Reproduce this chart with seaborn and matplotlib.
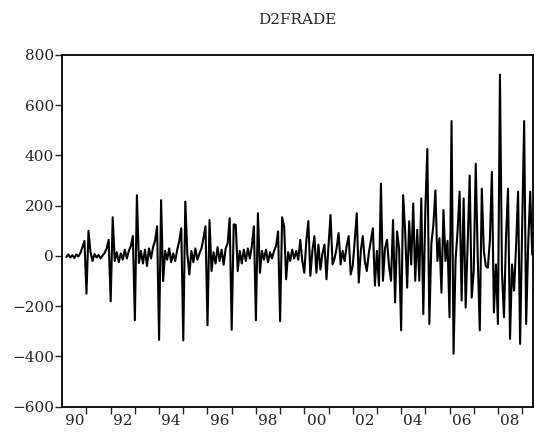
import numpy as np
import pandas as pd
import seaborn as sns
import matplotlib
matplotlib.use("Agg")
import matplotlib.pyplot as plt
from matplotlib.ticker import FixedLocator, NullFormatter, FixedFormatter

# monthly values of D2FRADE, Mar 1990 .. Jun 2009
y1990 = [-4, 6, -6, 3, -8, 6, -2, 12, 35, 60]  # from March
y1991 = [-150, 100, 15, -20, 8, -6, 4, -10, 2, 12, 30, 64]
y1992 = [-181, 154, -20, 15, -25, 10, -15, 25, -10, 20, 40, 79]
y1993 = [-256, 242, -28, 20, -30, 25, -40, 30, -10, 35, 60, 118]
y1994 = [-334, 222, -100, 20, -15, 30, -25, 10, -20, 25, 60, 110]
y1995 = [-336, 216, 10, -74, 20, -25, 30, -15, 10, 30, 70, 118]
y1996 = [-276, 143, -60, 15, -30, 35, -20, 25, -35, 30, 50, 150]
y1997 = [-294, 126, 124, -60, 20, -30, 25, -20, 30, -10, 40, 118]
y1998 = [-256, 170, -67, 20, -15, 25, -25, 15, -10, 20, 40, 98]
y1999 = [-260, 154, 118, -93, 15, -20, 25, -10, 20, -15, 64, -20]
y2000 = [-67, 60, 139, -79, 20, 79, -67, 45, -54, 10, 45, -93]
y2001 = [40, 163, -34, -10, 30, 91, -34, 20, -20, 40, 79, -74]
y2002 = [-40, 60, 170, -106, 20, 79, -20, -60, 12, 60, 110, -118]
y2003 = [20, -118, 288, -99, 30, 64, -40, -99, 143, -185, 98, 30]
y2004 = [-296, 242, 98, -126, 138, -34, 209, -99, 104, -99, 229, -231]
y2005 = [180, 426, -271, 50, 124, 261, -20, 71, -146, 183, -20, 60]
y2006 = [-244, 537, -389, -15, 100, 256, -177, 229, -205, 50, 320, -166]
y2007 = [-60, 367, -8, -296, 268, 20, -40, -47, 60, 335, -225, -34]
y2008 = [-271, 722, -60, -244, 71, 268, -330, -34, -138, 40, 256, -350]
y2009 = [110, 537, -271, 45, 256, 5]  # to June

year_labels = ["90", "92", "94", "96", "98", "00", "02", "04", "06", "08"]
y_ticks = [-600, -400, -200, 0, 200, 400, 600, 800]

values = (y1990 + y1991 + y1992 + y1993 + y1994 + y1995 + y1996 + y1997
          + y1998 + y1999 + y2000 + y2001 + y2002 + y2003 + y2004 + y2005
          + y2006 + y2007 + y2008 + y2009)
months = np.arange(2, 2 + len(values))
df = pd.DataFrame({"t": 1990 + months / 12.0, "D2FRADE": values})

sns.set_style("ticks")
plt.rcParams["font.family"] = ["DejaVu Serif"]

fig = plt.figure(figsize=(5.35, 4.32), dpi=100)
ax = fig.add_axes([0.1164, 0.0586, 0.8799, 0.8141])

sns.lineplot(data=df, x="t", y="D2FRADE", color="black", linewidth=1.5, ax=ax)

ax.set_xlim(1990, 2009.45)
ax.set_ylim(-600, 800)
ax.set_xlabel("")
ax.set_ylabel("")

# year boundaries as ticks, labels centred in every second year
ax.xaxis.set_major_locator(FixedLocator(np.arange(1991, 2010)))
ax.xaxis.set_major_formatter(NullFormatter())
ax.xaxis.set_minor_locator(FixedLocator(np.arange(1990.5, 2009, 2)))
ax.xaxis.set_minor_formatter(FixedFormatter(year_labels))
ax.tick_params(axis="x", which="major", length=5, width=1, direction="out")
ax.tick_params(axis="x", which="minor", length=0, pad=5, labelsize=11)

ax.set_yticks(y_ticks)
ax.set_yticklabels([f"{v}".replace("-", "\u2212") for v in y_ticks])
ax.tick_params(axis="y", length=5, width=1, direction="out", labelsize=11, pad=1)

for s in ax.spines.values():
    s.set_linewidth(1.3)
    s.set_color("black")

fig.text(0.556, 0.953, "D2FRADE", ha="center", va="center", fontsize=11)

fig.savefig("out.png", dpi=100)
